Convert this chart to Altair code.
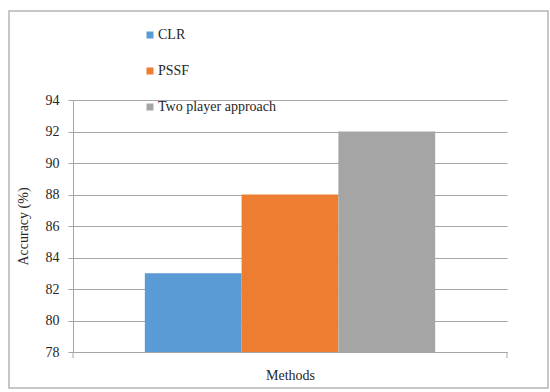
import altair as alt
import pandas as pd

methods = ["CLR", "PSSF", "Two player approach"]
accuracy = [83, 88, 92]
colors = ["#5B9BD5", "#ED7D31", "#A5A5A5"]
y_ticks = [78, 80, 82, 84, 86, 88, 90, 92, 94]
y_min, y_max = 78, 94

df = pd.DataFrame({"method": methods, "accuracy": accuracy, "base": [y_min] * len(methods)})

FONT = "Times New Roman, Liberation Serif, serif"
W, H = 434, 252

bars = alt.Chart(df).mark_bar(clip=True).encode(
    x=alt.X("method:N", sort=methods,
            scale=alt.Scale(domain=methods, paddingInner=0, paddingOuter=0.742),
            axis=alt.Axis(labels=False, ticks=False, title="Methods",
                          domainColor="#a6a6a6", titlePadding=16,
                          titleFont=FONT, titleFontSize=14, titleFontWeight="normal",
                          titleColor="#262626")),
    y=alt.Y("accuracy:Q",
            scale=alt.Scale(domain=[y_min, y_max], nice=False, zero=False),
            axis=alt.Axis(values=y_ticks, title="Accuracy (%)", grid=True,
                          gridColor="#a6a6a6", domainColor="#a6a6a6", tickColor="#a6a6a6",
                          tickSize=5, labelPadding=9, labelFont=FONT, labelFontSize=14,
                          labelColor="#262626", titleFont=FONT, titleFontSize=14,
                          titleFontWeight="normal", titleColor="#262626", titlePadding=15)),
    y2="base:Q",
    color=alt.Color("method:N", sort=methods,
                    scale=alt.Scale(domain=methods, range=colors),
                    legend=alt.Legend(title=None, orient="none", legendX=70, legendY=-72,
                                      direction="vertical", symbolType="square",
                                      symbolSize=49, symbolStrokeWidth=0, rowPadding=22,
                                      labelFont=FONT, labelFontSize=14, labelColor="#262626",
                                      labelOffset=1)),
)

one = pd.DataFrame({"a": [0]})
border = alt.Chart(one).mark_rect(fill=None, stroke="#b5b5b5", strokeWidth=1.5).encode(
    x=alt.value(-64), x2=alt.value(475), y=alt.value(-89), y2=alt.value(288)
)
end_ticks = alt.Chart(pd.DataFrame({"x": [0, W]})).mark_rule(color="#a6a6a6").encode(
    x=alt.X("x:Q", scale=None), y=alt.value(H), y2=alt.value(H + 6)
)

chart = alt.layer(border, bars, end_ticks).properties(
    width=W, height=H,
    autosize=alt.AutoSizeParams(type="none"),
    padding={"left": 73, "top": 100, "right": 43, "bottom": 40},
    background="white",
).configure_view(stroke=None).configure_axis(
    labelFont=FONT, titleFont=FONT
).configure_text(font=FONT)

chart.save("out.html", embed_options={"renderer": "svg", "actions": False})
